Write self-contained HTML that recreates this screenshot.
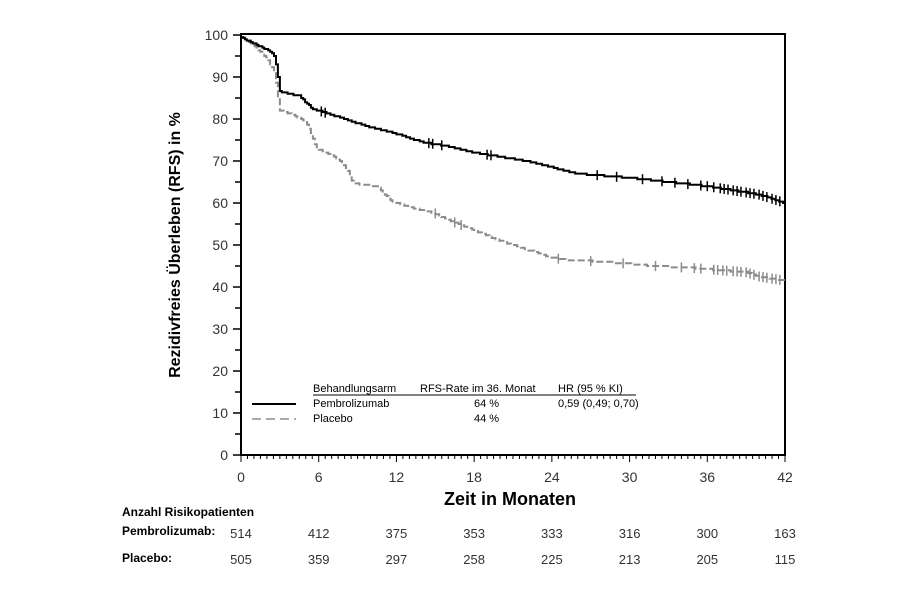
<!DOCTYPE html>
<html><head><meta charset="utf-8"><style>
html,body{margin:0;padding:0;background:#fff;}
svg{display:block;font-family:"Liberation Sans",Arial,sans-serif;}
</style></head><body>
<svg id="s" width="906" height="590" viewBox="0 0 906 590" xmlns="http://www.w3.org/2000/svg">
<rect x="0" y="0" width="906" height="590" fill="#fff"/>
<g id="ax"></g>
<rect x="241" y="34" width="544" height="421" fill="none" stroke="#000" stroke-width="2"/>
<g font-size="14" fill="#333" text-anchor="end">
<text x="228" y="40">100</text><text x="228" y="82">90</text><text x="228" y="124">80</text><text x="228" y="166">70</text><text x="228" y="208">60</text><text x="228" y="250">50</text><text x="228" y="292">40</text><text x="228" y="334">30</text><text x="228" y="376">20</text><text x="228" y="418">10</text><text x="228" y="460">0</text>
</g>
<g font-size="14" fill="#333" text-anchor="middle">
<text x="241" y="482">0</text><text x="318.7" y="482">6</text><text x="396.4" y="482">12</text><text x="474.1" y="482">18</text><text x="551.9" y="482">24</text><text x="629.6" y="482">30</text><text x="707.3" y="482">36</text><text x="785" y="482">42</text>
</g>
<text x="510" y="505" font-size="18" font-weight="bold" text-anchor="middle">Zeit in Monaten</text>
<text transform="translate(180,245) rotate(-90)" font-size="16" font-weight="bold" text-anchor="middle">Rezidivfreies Überleben (RFS) in %</text>
<line x1="252" y1="404" x2="296" y2="404" stroke="#000" stroke-width="2"/>
<line x1="252" y1="419" x2="296" y2="419" stroke="#aaa" stroke-width="2" stroke-dasharray="9,5"/>
<g font-size="11" fill="#000">
<text x="313" y="392">Behandlungsarm</text>
<line x1="313" y1="395" x2="636" y2="395" stroke="#000" stroke-width="1"/>
<text x="420" y="392">RFS-Rate im 36. Monat</text>
<text x="558" y="392">HR (95 % KI)</text>
<text x="313" y="407">Pembrolizumab</text>
<text x="474" y="407">64 %</text>
<text x="558" y="407">0,59 (0,49; 0,70)</text>
<text x="313" y="422">Placebo</text>
<text x="474" y="422">44 %</text>
</g>
<g font-size="12" font-weight="bold" fill="#000">
<text x="122" y="516">Anzahl Risikopatienten</text>
<text x="122" y="535">Pembrolizumab:</text>
<text x="122" y="562">Placebo:</text>
</g>
<g font-size="13" fill="#333" text-anchor="middle">
<text x="241" y="538">514</text><text x="318.7" y="538">412</text><text x="396.4" y="538">375</text><text x="474.1" y="538">353</text><text x="551.9" y="538">333</text><text x="629.6" y="538">316</text><text x="707.3" y="538">300</text><text x="785" y="538">163</text>
<text x="241" y="564">505</text><text x="318.7" y="564">359</text><text x="396.4" y="564">297</text><text x="474.1" y="564">258</text><text x="551.9" y="564">225</text><text x="629.6" y="564">213</text><text x="707.3" y="564">205</text><text x="785" y="564">115</text>
</g>
<path id="pl" fill="none" stroke="#8c8c8c" stroke-width="2" stroke-dasharray="7,3"/>
<path id="pe" fill="none" stroke="#000" stroke-width="2"/>
<g id="cens"></g>
</svg>
<script>
var X=function(m){return 241+m*544/42},Y=function(v){return 455-v*4.2};
var ax=document.getElementById('ax'),h='';
for(var v=0;v<=100;v+=5){var y=Y(v);h+='<line x1="'+(v%10?235:233)+'" y1="'+y+'" x2="241" y2="'+y+'" stroke="#000" stroke-width="1.5"/>';}
for(var m=0;m<=42;m+=0.5){var x=X(m);h+='<line x1="'+x+'" y1="455" x2="'+x+'" y2="'+(m%6?459:462)+'" stroke="#000" stroke-width="1"/>';}
ax.innerHTML=h;
var pe=[[0,99.5],[1,98],[2,96.5],[2.6,95],[2.8,91],[3,86.5],[4.5,85.5],[5.5,82.5],[6,82],[8,80],[10,78],[12,76.5],[14,74.5],[16,73.5],[18,72],[20,71],[22,70],[24,68.5],[26,67],[28,66.5],[30,66],[33,65],[36,64],[38,63],[40,62],[41,61],[42,60]];
var pl=[[0,99.5],[1,97.5],[2,94.5],[2.6,91],[2.8,86],[3,82],[4,81],[5,79.5],[5.5,76],[5.8,73],[6.5,72],[7.5,70.5],[8.2,68],[8.6,65],[9,64.5],[10.5,64],[11,62.5],[11.6,60.5],[13,59],[15,57.5],[16,56],[18,53.5],[20,51],[22,49],[24,47],[25,46.5],[28,46],[30,45.5],[32,45],[35,44.5],[37,44],[39,43.5],[40,42.5],[42,41.5]];
function interp(a,m){for(var i=1;i<a.length;i++){if(a[i][0]>=m){var t=(m-a[i-1][0])/(a[i][0]-a[i-1][0]);return a[i-1][1]+t*(a[i][1]-a[i-1][1]);}}return a[a.length-1][1];}
function path(a){var d='M'+X(0)+','+Y(a[0][1]);var prev=a[0][1];
for(var m=0.15;m<=42.001;m+=0.15){var v=interp(a,m);v=Math.round(v*3)/3;if(v!==prev){d+='H'+X(m).toFixed(1)+'V'+Y(v).toFixed(1);prev=v;}}
d+='H'+X(42);return d;}
document.getElementById('pe').setAttribute('d',path(pe));
document.getElementById('pl').setAttribute('d',path(pl));
var c='';
var cpe=[6.2,6.5,14.5,14.8,15.5,19,19.3,27.5,29,31,32.5,33.5,34.5,35.5,36,36.5,37,37.3,37.6,38,38.3,38.6,39,39.3,39.6,40,40.3,40.6,41,41.3,41.6];
var cpl=[15,16.5,17,24.5,27,29.5,32,34,35,35.5,36.5,36.8,37.2,37.5,38,38.3,38.6,39,39.3,39.6,40,40.3,40.6,41,41.3,41.6];
cpe.forEach(function(m){var y=Y(interp(pe,m)),x=X(m);c+='<line x1="'+x+'" y1="'+(y-5)+'" x2="'+x+'" y2="'+(y+5)+'" stroke="#000" stroke-width="1.5"/>';});
cpl.forEach(function(m){var y=Y(interp(pl,m)),x=X(m);c+='<line x1="'+x+'" y1="'+(y-5)+'" x2="'+x+'" y2="'+(y+5)+'" stroke="#8c8c8c" stroke-width="1.5"/>';});
document.getElementById('cens').innerHTML=c;
</script>
</body></html>
